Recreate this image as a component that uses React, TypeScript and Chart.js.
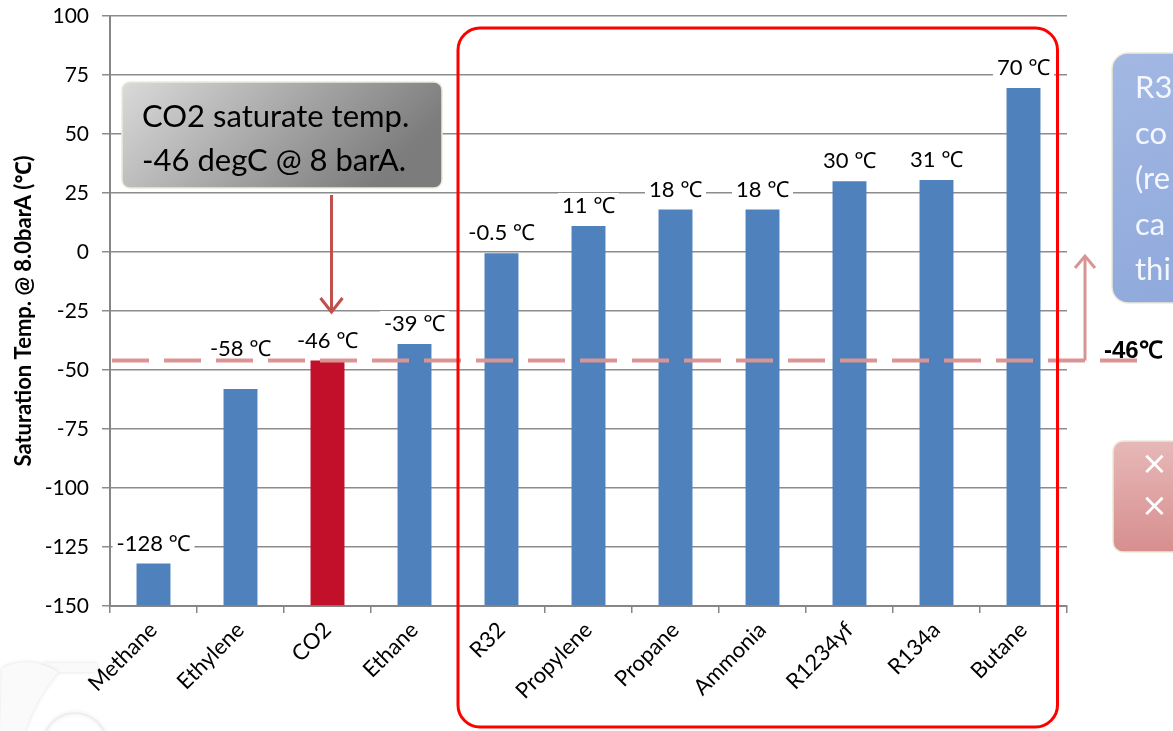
import React, { useEffect, useRef } from "react";
import { Chart, registerables } from "chart.js";

Chart.register(...registerables);

const categories = ["Methane", "Ethylene", "CO2", "Ethane", "R32", "Propylene", "Propane", "Ammonia", "R1234yf", "R134a", "Butane"];
const satTemps = [-132, -58, -46, -39, -0.5, 11, 18, 18, 30, 30.5, 69.5];
const valueLabels = ["-128 ℃", "-58 ℃", "-46 ℃", "-39 ℃", "-0.5 ℃", "11 ℃", "18 ℃", "18 ℃", "30 ℃", "31 ℃", "70 ℃"];
const highlightCategory = "CO2";
const yMin = -150;
const yMax = 100;
const yStep = 25;
const co2SatTemp = -46;
const co2Marker = "-46℃";
const yTitle = "Saturation Temp. @ 8.0barA (℃)";
const calloutLines = ["CO2 saturate temp.", "-46 degC @ 8 barA."];
const blueNoteLines = ["R3", "co", "(re", "ca", "thi"];
const redNoteLines = ["×", "×"];

const FONT = "Lato, 'Noto Sans', sans-serif";

function roundRect(ctx: CanvasRenderingContext2D, x: number, y: number, w: number, h: number, r: number) {
  ctx.beginPath();
  ctx.moveTo(x + r, y);
  ctx.lineTo(x + w - r, y);
  ctx.arcTo(x + w, y, x + w, y + r, r);
  ctx.lineTo(x + w, y + h - r);
  ctx.arcTo(x + w, y + h, x + w - r, y + h, r);
  ctx.lineTo(x + r, y + h);
  ctx.arcTo(x, y + h, x, y + h - r, r);
  ctx.lineTo(x, y + r);
  ctx.arcTo(x, y, x + r, y, r);
  ctx.closePath();
}

const decorPlugin = {
  id: "decor",
  beforeDraw(chart: any) {
    const ctx = chart.ctx as CanvasRenderingContext2D;
    ctx.save();
    ctx.fillStyle = "#fff";
    ctx.fillRect(0, 0, chart.width, chart.height);
    // faint pump watermark
    ctx.shadowColor = "rgba(0,0,0,0.12)";
    ctx.shadowBlur = 4;
    ctx.fillStyle = "#fafafa";
    ctx.strokeStyle = "#ececec";
    ctx.lineWidth = 1.5;
    roundRect(ctx, 43, 663, 54, 9, 3);
    ctx.fill();
    ctx.beginPath();
    ctx.moveTo(2, 668);
    ctx.quadraticCurveTo(30, 655, 58, 672);
    ctx.quadraticCurveTo(35, 700, 25, 731);
    ctx.lineTo(0, 731);
    ctx.closePath();
    ctx.fill();
    ctx.beginPath();
    ctx.arc(75, 745, 32, Math.PI * 1.05, Math.PI * 1.95);
    ctx.stroke();
    ctx.restore();
  },
  afterDatasetsDraw(chart: any) {
    const ctx = chart.ctx as CanvasRenderingContext2D;
    const y = chart.scales.y;
    const meta = chart.getDatasetMeta(0);
    const dashY = y.getPixelForValue(co2SatTemp);
    ctx.save();
    ctx.font = `22px ${FONT}`;
    ctx.textAlign = "center";
    ctx.textBaseline = "middle";
    meta.data.forEach((bar: any, i: number) => {
      let ly = bar.y - 21;
      if (Math.abs(ly - dashY) < 15) ly = dashY - 13;
      const t = valueLabels[i];
      const w = ctx.measureText(t).width + 8;
      ctx.fillStyle = "#fff";
      ctx.fillRect(bar.x - w / 2, ly - 12, w, 24);
      ctx.fillStyle = "#000";
      ctx.fillText(t, bar.x, ly + 1);
    });
    ctx.restore();
  },
  afterDraw(chart: any) {
    const ctx = chart.ctx as CanvasRenderingContext2D;
    const x = chart.scales.x;
    const y = chart.scales.y;
    const area = chart.chartArea;
    const dashY = y.getPixelForValue(co2SatTemp);
    ctx.save();

    // dashed -46 line
    ctx.strokeStyle = "#d99594";
    ctx.lineWidth = 4;
    ctx.setLineDash([37, 15]);
    ctx.beginPath();
    ctx.moveTo(area.left + 2, dashY);
    ctx.lineTo(1146, dashY);
    ctx.stroke();
    ctx.setLineDash([]);

    // up arrow
    ctx.lineWidth = 3;
    ctx.beginPath();
    ctx.moveTo(1085, dashY);
    ctx.lineTo(1085, 256);
    ctx.stroke();
    ctx.beginPath();
    ctx.moveTo(1075, 268);
    ctx.lineTo(1085, 256);
    ctx.lineTo(1095, 268);
    ctx.stroke();

    // -46℃ marker text
    ctx.fillStyle = "#000";
    ctx.font = `bold 24px 'Liberation Sans', Arial, sans-serif`;
    ctx.textAlign = "left";
    ctx.textBaseline = "alphabetic";
    ctx.fillText(co2Marker, 1104, dashY - 3);

    // red rounded frame
    const left = (x.getPixelForValue(3) + x.getPixelForValue(4)) / 2;
    const right = x.getPixelForValue(10) + 34;
    ctx.strokeStyle = "#ff0000";
    ctx.lineWidth = 3;
    roundRect(ctx, left, 28, right - left, 699, 22);
    ctx.stroke();

    // gray callout
    const g = ctx.createLinearGradient(122, 82, 300, 260);
    g.addColorStop(0, "#dadada");
    g.addColorStop(1, "#7c7c7c");
    ctx.fillStyle = g;
    roundRect(ctx, 122, 82, 320, 106, 8);
    ctx.fill();
    ctx.strokeStyle = "#ecead8";
    ctx.lineWidth = 1.5;
    ctx.stroke();
    ctx.fillStyle = "#000";
    ctx.font = `31px ${FONT}`;
    ctx.textBaseline = "middle";
    ctx.fillText(calloutLines[0], 142, 117);
    ctx.fillText(calloutLines[1], 142, 161);

    // arrow down to CO2
    const cx = x.getPixelForValue(2) + 4;
    ctx.strokeStyle = "#c0504d";
    ctx.lineWidth = 3;
    ctx.beginPath();
    ctx.moveTo(cx, 195);
    ctx.lineTo(cx, 312);
    ctx.stroke();
    ctx.beginPath();
    ctx.moveTo(cx - 11, 298);
    ctx.lineTo(cx, 312);
    ctx.lineTo(cx + 11, 298);
    ctx.stroke();

    // blue note box (cut off at right)
    const gb = ctx.createLinearGradient(1112, 53, 1200, 303);
    gb.addColorStop(0, "#a3b8e3");
    gb.addColorStop(1, "#8fa9dc");
    ctx.fillStyle = gb;
    roundRect(ctx, 1112, 53, 120, 250, 16);
    ctx.fill();
    ctx.strokeStyle = "#ecead8";
    ctx.lineWidth = 1.5;
    ctx.stroke();
    ctx.fillStyle = "#f4f7ff";
    ctx.font = `31px ${FONT}`;
    ctx.textBaseline = "middle";
    blueNoteLines.forEach((t, i) => ctx.fillText(t, 1135, 88 + i * 45.5));

    // red note box
    const gr = ctx.createLinearGradient(0, 441, 0, 552);
    gr.addColorStop(0, "#e7b8b8");
    gr.addColorStop(1, "#d78e8e");
    ctx.fillStyle = gr;
    roundRect(ctx, 1113, 441, 120, 111, 10);
    ctx.fill();
    ctx.strokeStyle = "#ecead8";
    ctx.stroke();
    ctx.fillStyle = "#fff";
    ctx.font = `32px 'DejaVu Sans', sans-serif`;
    redNoteLines.forEach((t, i) => ctx.fillText(t, 1141, 466 + i * 42));

    ctx.restore();
  },
};

export default function App() {
  const ref = useRef<HTMLCanvasElement | null>(null);
  useEffect(() => {
    if (!ref.current) return;
    const chart = new Chart(ref.current, {
      type: "bar",
      data: {
        labels: categories,
        datasets: [
          {
            data: satTemps,
            base: yMin,
            backgroundColor: categories.map((c) => (c === highlightCategory ? "#c3102a" : "#4f81bd")),
            borderWidth: 0,
            barPercentage: 0.39,
            categoryPercentage: 1,
          } as any,
        ],
      },
      options: {
        animation: false,
        responsive: false,
        layout: { padding: { top: 16, right: 106, left: 0, bottom: 0 } },
        plugins: { legend: { display: false }, tooltip: { enabled: false } },
        scales: {
          x: {
            grid: { drawOnChartArea: false, color: "#868686", tickLength: 7, lineWidth: 1.5 },
            border: { color: "#868686", width: 2 },
            ticks: {
              color: "#000",
              font: { family: FONT, size: 22 },
              minRotation: 45,
              maxRotation: 45,
              autoSkip: false,
              padding: 4,
            },
            afterFit: (s: any) => {
              s.height = 125;
              s.paddingLeft = 0;
              s.paddingRight = 0;
            },
          },
          y: {
            min: yMin,
            max: yMax,
            ticks: { stepSize: yStep, color: "#000", font: { family: FONT, size: 21 }, padding: 13 },
            grid: { color: "#8c8c8c", lineWidth: 1.5, tickLength: 8 },
            border: { color: "#868686", width: 2 },
            title: {
              display: true,
              text: yTitle,
              color: "#000",
              font: { family: FONT, size: 22, weight: "bold" },
              padding: { top: 11, bottom: 0 },
            },
            afterFit: (s: any) => {
              s.width = 110;
              s.paddingTop = 0;
              s.paddingBottom = 0;
            },
          },
        },
      },
      plugins: [decorPlugin],
    });
    return () => chart.destroy();
  }, []);
  return (
    <div style={{ position: "absolute", left: 0, top: 0, width: 1173, height: 731, background: "#fff" }}>
      <canvas ref={ref} width={1173} height={731} />
    </div>
  );
}
